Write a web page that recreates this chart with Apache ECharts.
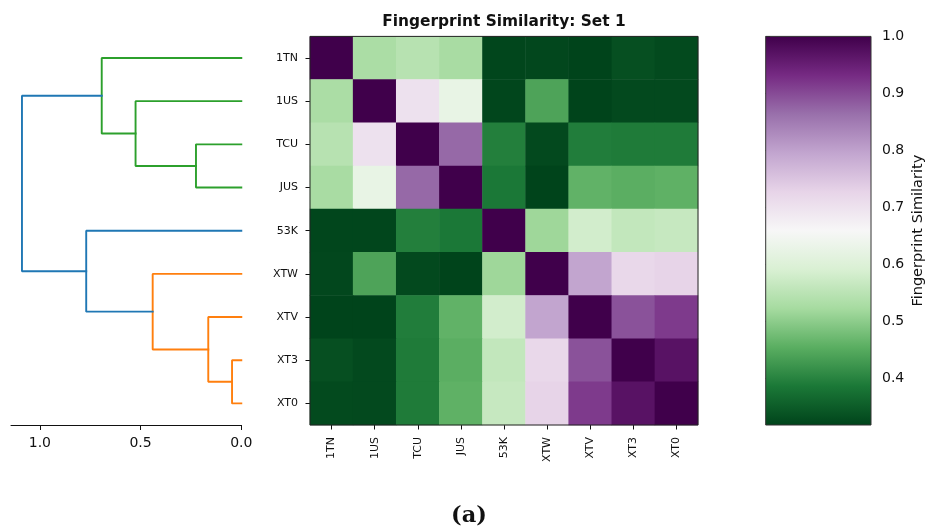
<!DOCTYPE html>
<html>
<head>
<meta charset="utf-8">
<script src="https://cdn.jsdelivr.net/npm/echarts@6/dist/echarts.min.js"></script>
<style>
  html, body { margin: 0; padding: 0; background: #fff; }
  #chart { width: 926px; height: 529px; }
</style>
</head>
<body>
<div id="chart"></div>
<script>
// Compound labels, in dendrogram leaf order (top to bottom)
const labels = ['1TN', '1US', 'TCU', 'JUS', '53K', 'XTW', 'XTV', 'XT3', 'XT0'];

// Pairwise fingerprint similarity (rows/columns follow `labels`)
const similarity = [
  [1.000, 0.529, 0.546, 0.526, 0.320, 0.322, 0.318, 0.332, 0.326],
  [0.529, 1.000, 0.702, 0.625, 0.320, 0.441, 0.318, 0.325, 0.325],
  [0.546, 0.702, 1.000, 0.870, 0.395, 0.325, 0.393, 0.390, 0.390],
  [0.526, 0.625, 0.870, 1.000, 0.386, 0.318, 0.461, 0.455, 0.459],
  [0.320, 0.320, 0.395, 0.386, 1.000, 0.516, 0.581, 0.560, 0.566],
  [0.322, 0.441, 0.325, 0.318, 0.516, 1.000, 0.795, 0.720, 0.727],
  [0.318, 0.318, 0.393, 0.461, 0.581, 0.795, 1.000, 0.893, 0.916],
  [0.332, 0.325, 0.390, 0.455, 0.560, 0.720, 0.893, 1.000, 0.970],
  [0.326, 0.325, 0.390, 0.459, 0.566, 0.727, 0.916, 0.970, 1.000]
];

// Hierarchical linkage: merge k joins linkLeft[k] and linkRight[k];
// ids >= labels.length refer to the cluster formed by an earlier merge.
const linkLeft     = [7, 6, 2, 5, 1, 0, 4, 14];
const linkRight    = [8, 9, 3, 10, 11, 13, 12, 15];
const linkDistance = [0.046, 0.164, 0.225, 0.440, 0.525, 0.693, 0.770, 1.089];

const distanceTicks = [0, 0.5, 1.0];
const similarityTicks = [0.4, 0.5, 0.6, 0.7, 0.8, 0.9, 1.0];

// ---- styling ----
const FONT = 'DejaVu Sans';
const INK = '#111';
const aboveThresholdColor = '#1f77b4';
const clusterPalette = ['#2ca02c', '#ff7f0e'];
// PRGn reversed: green for low similarity, purple for high
const prgnReversed = ['#00441b', '#1b7837', '#5aae61', '#a6dba0', '#d9f0d3', '#f7f7f7',
                      '#e7d4e8', '#c2a5cf', '#9970ab', '#762a83', '#40004b'];

const n = labels.length;
let simMin = Infinity;
similarity.forEach(r => r.forEach(v => { if (v < simMin) simMin = v; }));
const maxDistance = Math.max(...linkDistance);
const colorThreshold = 0.7 * maxDistance;

// Node coordinates: leaves sit at 5, 15, 25 ...; each merge at its children's mean
const nodeY = labels.map((_, i) => 5 + 10 * i);
const nodeH = labels.map(() => 0);
linkDistance.forEach((d, k) => {
  nodeY.push((nodeY[linkLeft[k]] + nodeY[linkRight[k]]) / 2);
  nodeH.push(d);
});

// Colour every sub-threshold cluster with its own palette entry
const linkColor = new Array(linkDistance.length);
let nextColor = 0;
function paint(node, inherited) {
  if (node < n) return;
  const k = node - n;
  let c = inherited;
  if (!c && linkDistance[k] < colorThreshold) {
    c = clusterPalette[nextColor++ % clusterPalette.length];
  }
  linkColor[k] = c || aboveThresholdColor;
  paint(linkLeft[k], c);
  paint(linkRight[k], c);
}
paint(n + linkDistance.length - 1, null);

const linkSeries = linkDistance.map((d, k) => {
  const a = linkLeft[k], b = linkRight[k];
  return {
    type: 'line',
    xAxisIndex: 0,
    yAxisIndex: 0,
    data: [[nodeH[a], nodeY[a]], [d, nodeY[a]], [d, nodeY[b]], [nodeH[b], nodeY[b]]],
    symbol: 'none',
    clip: false,
    silent: true,
    lineStyle: { color: linkColor[k], width: 1.9, cap: 'square' },
    z: 3
  };
});

const heatData = [];
similarity.forEach((row, r) => row.forEach((v, c) => heatData.push([c, r, v])));

// Layout boxes (pixels)
const plotTop = 36.4, plotHeight = 388.6;
const dendro = { left: 11, width: 230.3 };
const heat = { left: 310, width: 388 };
const cbar = { left: 765.7, width: 105.3 };

const tickLine = { color: INK, width: 1 };

// Colour bar gradient: offset 0 at the bottom (min), 1 at the top (max)
const cbarStops = prgnReversed.map((c, i) => ({
  offset: i / (prgnReversed.length - 1), color: c
}));

const chart = echarts.init(document.getElementById('chart'), null, { renderer: 'canvas' });
chart.setOption({
  animation: false,
  backgroundColor: '#fff',
  textStyle: { fontFamily: FONT, color: INK },
  grid: [
    { left: dendro.left, top: plotTop, width: dendro.width, height: plotHeight,
      outerBoundsMode: 'none', containLabel: false },
    { left: heat.left, top: plotTop, width: heat.width, height: plotHeight,
      outerBoundsMode: 'none', containLabel: false,
      show: true, borderColor: '#222', borderWidth: 1, backgroundColor: 'transparent', z: 10 },
    { left: cbar.left, top: plotTop, width: cbar.width, height: plotHeight,
      outerBoundsMode: 'none', containLabel: false,
      show: true, borderColor: '#333', borderWidth: 1, backgroundColor: 'transparent', z: 10 }
  ],
  xAxis: [
    {
      gridIndex: 0, type: 'value', min: 0, max: maxDistance * 1.05, inverse: true,
      position: 'bottom',
      axisLine: { show: true, onZero: false, lineStyle: { color: INK, width: 1 } },
      axisTick: { show: true, customValues: distanceTicks, length: 5, lineStyle: tickLine },
      axisLabel: { customValues: distanceTicks, formatter: v => v.toFixed(1),
                   fontSize: 14, color: INK, margin: 11, fontFamily: FONT },
      splitLine: { show: false }
    },
    {
      gridIndex: 1, type: 'category', data: labels, position: 'bottom',
      axisLine: { show: false },
      axisTick: { show: true, alignWithLabel: true, length: 4.5, lineStyle: tickLine },
      axisLabel: { rotate: 90, fontSize: 11, color: INK, margin: 12, fontFamily: FONT },
      splitLine: { show: false }
    },
    {
      gridIndex: 2, type: 'value', min: 0, max: 1, show: false
    }
  ],
  yAxis: [
    { gridIndex: 0, type: 'value', min: 0, max: 10 * n, inverse: true, show: false },
    {
      gridIndex: 1, type: 'category', data: labels, inverse: true, position: 'left',
      axisLine: { show: false },
      axisTick: { show: true, alignWithLabel: true, length: 4.5, lineStyle: tickLine },
      axisLabel: { fontSize: 11, color: INK, margin: 12, fontFamily: FONT },
      splitLine: { show: false }
    },
    {
      gridIndex: 2, type: 'value', min: simMin, max: 1, position: 'right',
      axisLine: { show: false },
      axisTick: { show: true, customValues: similarityTicks, length: 4.5, lineStyle: tickLine },
      axisLabel: { customValues: similarityTicks, formatter: v => v.toFixed(1),
                   fontSize: 14, color: INK, margin: 11, fontFamily: FONT },
      splitLine: { show: false },
      name: 'Fingerprint Similarity', nameLocation: 'middle', nameRotate: 90, nameGap: 40,
      nameTextStyle: { fontSize: 14.5, color: INK, fontFamily: FONT }
    }
  ],
  visualMap: {
    type: 'continuous',
    show: false,
    seriesIndex: 0,
    min: simMin,
    max: 1,
    inRange: { color: prgnReversed }
  },
  series: [
    {
      type: 'heatmap',
      xAxisIndex: 1,
      yAxisIndex: 1,
      data: heatData,
      silent: true,
      itemStyle: { borderWidth: 0 },
      emphasis: { disabled: true }
    }
  ].concat(linkSeries),
  graphic: [
    {
      type: 'rect', silent: true, z: 1,
      shape: { x: cbar.left, y: plotTop, width: cbar.width, height: plotHeight },
      style: { fill: new echarts.graphic.LinearGradient(0, 1, 0, 0, cbarStops) }
    },
    {
      type: 'text', x: 504, y: 22, silent: true,
      style: { text: 'Fingerprint Similarity: Set 1', font: 'bold 15.4px "DejaVu Sans"',
               fill: INK, align: 'center', verticalAlign: 'middle',
               textAlign: 'center', textVerticalAlign: 'middle' }
    },
    {
      type: 'text', x: 469, y: 516, silent: true,
      style: { text: '(a)', font: 'bold 22.5px "DejaVu Serif"',
               fill: INK, align: 'center', verticalAlign: 'middle',
               textAlign: 'center', textVerticalAlign: 'middle' }
    }
  ]
});
</script>
</body>
</html>
